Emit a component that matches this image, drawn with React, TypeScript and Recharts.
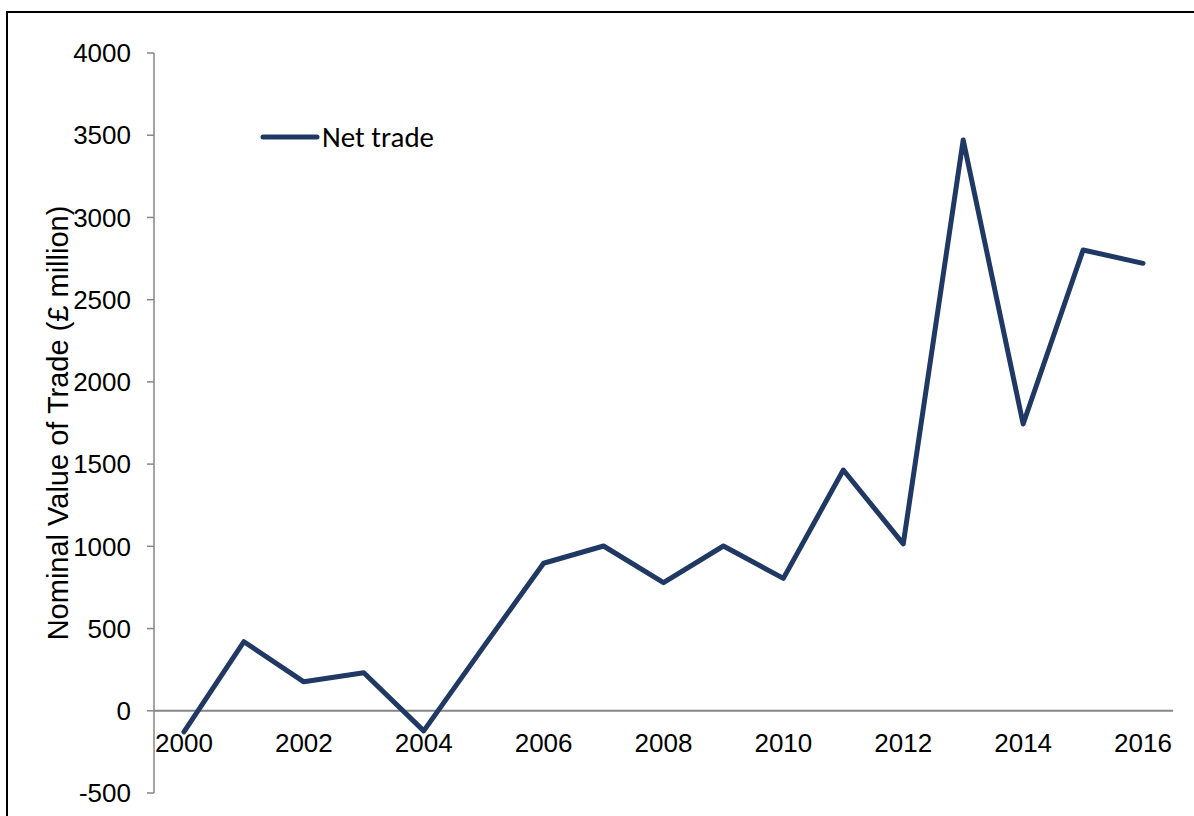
import React from "react";
import { LineChart, Line, XAxis, YAxis, ReferenceLine, Legend } from "recharts";

const years = ["2000","2001","2002","2003","2004","2005","2006","2007","2008","2009","2010","2011","2012","2013","2014","2015","2016"];
const netTrade = [-128, 420, 176, 231, -122, 390, 897, 1002, 779, 1002, 805, 1464, 1015, 3471, 1744, 2802, 2721];
const yTicks = [-500, 0, 500, 1000, 1500, 2000, 2500, 3000, 3500, 4000];
const seriesName = "Net trade";
const yTitle = "Nominal Value of Trade (£ million)";

const data = years.map((y, i) => ({ year: y, value: netTrade[i] }));

const AXIS = "#868686";
const LINE = "#203864";
const FONT = "'Liberation Sans', Arial, sans-serif";

const XTick = (props: any) => {
  const { x, y, payload } = props;
  return (
    <text x={x} y={y - 70} dy="0.8em" textAnchor="middle" fill="#000" fontSize={26} fontFamily={FONT}>
      {payload.value}
    </text>
  );
};

const LegendContent = () => (
  <div style={{ display: "flex", alignItems: "center" }}>
    <svg width={60} height={10} style={{ display: "block" }}>
      <line x1={3} y1={5} x2={57} y2={5} stroke={LINE} strokeWidth={5} strokeLinecap="round" />
    </svg>
    <span style={{ fontFamily: "Carlito, Lato, sans-serif", fontSize: 29, color: "#000", marginLeft: 2, lineHeight: "30px" }}>
      {seriesName}
    </span>
  </div>
);

export default function App() {
  return (
    <div style={{ position: "fixed", left: 0, top: 0, width: 1194, height: 816, overflow: "hidden", background: "#fff" }}>
      <div style={{ position: "absolute", left: 6, top: 11, width: 1300, height: 900, borderTop: "2px solid #000", borderLeft: "2px solid #000" }} />
      <div style={{ position: "absolute", left: 0, top: 0 }}>
        <LineChart width={1194} height={816} data={data} margin={{ top: 53, right: 21, bottom: 22, left: 0 }}>
          <XAxis
            dataKey="year"
            scale="band"
            height={1}
            axisLine={false}
            tickLine={false}
            interval={1}
            tick={<XTick />}
          />
          <YAxis
            width={154}
            domain={[-500, 4000]}
            ticks={yTicks}
            interval={0}
            axisLine={{ stroke: AXIS, strokeWidth: 1.5 }}
            tickLine={{ stroke: AXIS, strokeWidth: 1.5 }}
            tickSize={7}
            tickMargin={16}
            tick={{ fill: "#000", fontSize: 26, fontFamily: FONT }}
            label={{ value: yTitle, angle: -90, position: "center", dx: -19, fill: "#000", fontSize: 29, fontFamily: FONT }}
          />
          <ReferenceLine y={0} stroke={AXIS} strokeWidth={2} ifOverflow="visible" />
          <Legend
            layout="horizontal"
            verticalAlign="middle"
            align="center"
            content={<LegendContent />}
            wrapperStyle={{ position: "absolute", left: 260, top: 122, width: 250 }}
          />
          <Line
            type="linear"
            dataKey="value"
            name={seriesName}
            stroke={LINE}
            strokeWidth={5}
            strokeLinecap="round"
            strokeLinejoin="round"
            dot={false}
            isAnimationActive={false}
          />
        </LineChart>
      </div>
    </div>
  );
}
